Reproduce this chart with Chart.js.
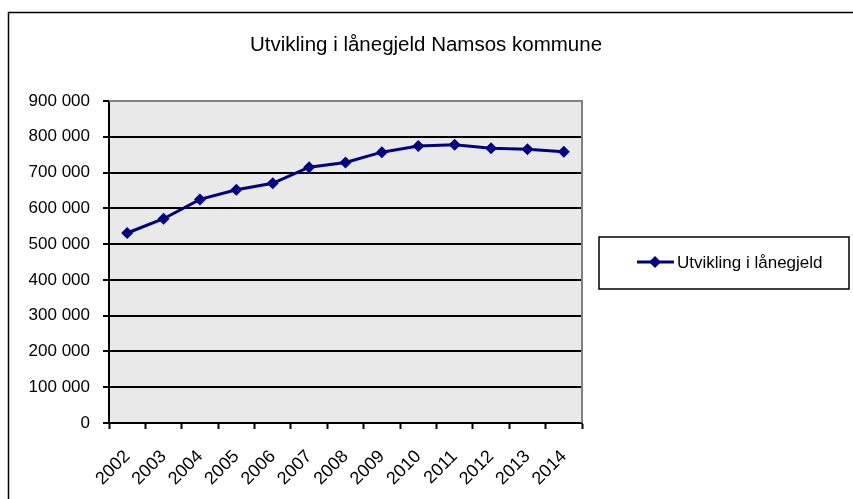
<!DOCTYPE html>
<html>
<head>
<meta charset="utf-8">
<script src="https://cdn.jsdelivr.net/npm/chart.js@4.4.0/dist/chart.umd.min.js"></script>
<style>
  html, body { margin: 0; padding: 0; background: #fff; }
  #wrap { width: 853px; height: 499px; position: relative; }
</style>
</head>
<body>
<div id="wrap"><canvas id="chart"></canvas></div>
<script>
const years = ["2002", "2003", "2004", "2005", "2006", "2007", "2008", "2009", "2010", "2011", "2012", "2013", "2014"];
const gjeld = [531000, 571000, 625000, 652000, 670000, 715000, 728000, 757000, 774000, 778000, 768000, 765000, 758000];
const seriesName = "Utvikling i lånegjeld";
const chartTitle = "Utvikling i lånegjeld Namsos kommune";
const yMax = 900000;
const yStep = 100000;

const FONT = "'Liberation Sans', Arial, sans-serif";
const NAVY = "#000080";

const frame = {
  id: "frame",
  beforeDraw(chart) {
    const { ctx, chartArea: a } = chart;
    ctx.save();
    ctx.fillStyle = "#fff";
    ctx.fillRect(0, 0, chart.width, chart.height);
    ctx.fillStyle = "#e9e9e9";
    ctx.fillRect(a.left, a.top, a.right - a.left, a.bottom - a.top);
    ctx.restore();
  },
  afterDraw(chart) {
    const { ctx, chartArea: a } = chart;
    ctx.save();
    // plot border top/right
    ctx.strokeStyle = "#808080";
    ctx.lineWidth = 2;
    ctx.beginPath();
    ctx.moveTo(a.left, a.top);
    ctx.lineTo(a.right, a.top);
    ctx.lineTo(a.right, a.bottom);
    ctx.stroke();

    // outer frame
    ctx.strokeStyle = "#000";
    ctx.lineWidth = 1.5;
    ctx.strokeRect(8.5, 12.5, 900, 600);

    // title
    ctx.fillStyle = "#000";
    ctx.font = "20.5px " + FONT;
    ctx.textAlign = "center";
    ctx.textBaseline = "middle";
    ctx.fillText(chartTitle, 426, 45);

    // legend
    ctx.lineWidth = 1.5;
    ctx.strokeRect(599, 237, 250, 52);
    const ly = 262;
    ctx.strokeStyle = NAVY;
    ctx.lineWidth = 3;
    ctx.beginPath();
    ctx.moveTo(637, ly);
    ctx.lineTo(674, ly);
    ctx.stroke();
    ctx.fillStyle = NAVY;
    ctx.beginPath();
    ctx.moveTo(655, ly - 6);
    ctx.lineTo(661, ly);
    ctx.lineTo(655, ly + 6);
    ctx.lineTo(649, ly);
    ctx.closePath();
    ctx.fill();
    ctx.fillStyle = "#000";
    ctx.font = "17px " + FONT;
    ctx.textAlign = "left";
    ctx.fillText(seriesName, 677, ly + 1);
    ctx.restore();
  }
};

new Chart(document.getElementById("chart"), {
  type: "line",
  data: {
    labels: years,
    datasets: [{
      label: seriesName,
      data: gjeld,
      borderColor: NAVY,
      backgroundColor: NAVY,
      borderWidth: 3,
      pointStyle: "rectRot",
      pointRadius: 6,
      pointBorderWidth: 0,
      tension: 0
    }]
  },
  options: {
    responsive: true,
    maintainAspectRatio: false,
    animation: false,
    layout: { padding: { top: 101, right: 271, bottom: 0, left: 0 } },
    plugins: {
      legend: { display: false },
      title: { display: false },
      tooltip: { enabled: false }
    },
    scales: {
      x: {
        offset: true,
        afterFit(scale) { scale.height = 76; },
        grid: {
          offset: true,
          drawOnChartArea: false,
          tickLength: 6,
          tickColor: "#000",
          tickWidth: 2
        },
        border: { color: "#000", width: 2 },
        ticks: {
          autoSkip: false,
          minRotation: 45,
          maxRotation: 45,
          padding: 17,
          color: "#000",
          font: { family: FONT, size: 18 }
        }
      },
      y: {
        min: 0,
        max: yMax,
        afterFit(scale) { scale.width = 109; },
        grid: {
          color: (c) => (c.tick && c.tick.value === yMax ? "rgba(0,0,0,0)" : "#000"),
          lineWidth: 2,
          tickLength: 6,
          tickColor: "#000",
          tickWidth: 2
        },
        border: { color: "#000", width: 2 },
        ticks: {
          stepSize: yStep,
          padding: 13,
          color: "#000",
          font: { family: FONT, size: 17 },
          callback: (v) => String(v).replace(/\B(?=(\d{3})+(?!\d))/g, " ")
        }
      }
    }
  },
  plugins: [frame]
});
</script>
</body>
</html>
